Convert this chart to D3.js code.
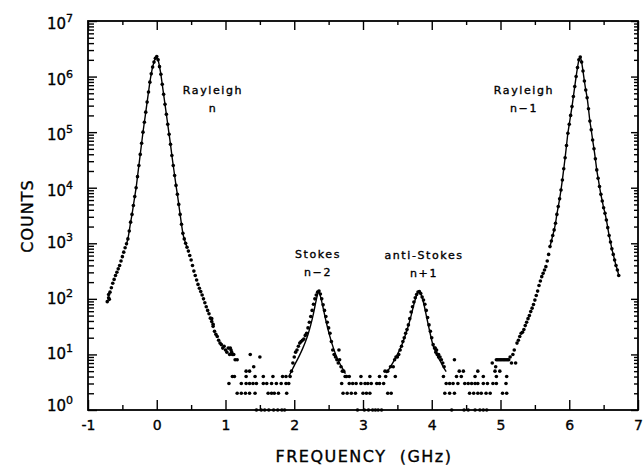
<!DOCTYPE html>
<html><head><meta charset="utf-8">
<script src="https://cdn.jsdelivr.net/npm/d3@7"></script>
<style>body{margin:0;background:#fff} text{stroke:#000;stroke-width:0.35px}</style>
</head><body>
<svg id="c" width="644" height="466"></svg>
<script>
// ---------- data ----------
const xTicks = [-1, 0, 1, 2, 3, 4, 5, 6, 7];
const xMinorTicks = [-0.5, 0.5, 1.5, 2.5, 3.5, 4.5, 5.5, 6.5];
const yExponents = [0, 1, 2, 3, 4, 5, 6, 7];

// Rayleigh n peak: channel counts from -0.72 GHz, 0.02 GHz per channel
const rayleighNStart = -0.72, rayleighNStep = 0.02;
const rayleighNCounts = [
  89,105,132,158,191,224,263,302,347,398,
  479,575,692,832,977,1200,1660,2400,3310,4790,
  6920,10000,15800,25100,39800,63100,100000,151000,229000,347000,
  525000,794000,1120000,1480000,1820000,2140000,2290000,2000000,1510000,1100000,
  724000,479000,316000,209000,138000,91200,60300,38000,25100,16600,
  11000,7590,5010,3310,2190,1510,1200,1000,851,724,
  603,501,398,316,263,219,182,155,135,117,
  100,85,72,62,54,45,39,32,26,23,
  21,18,16,15,13,14,12,11,13,10,
  12,10,10,8];
const rayleighNFitRange = [-0.44, 0.44];

// Stokes n-2 peak: channel counts from 1.94 GHz
const stokesStart = 1.94, stokesStep = 0.02;
const stokesCounts = [4,5,7,9,11,12,14,16,17,18,19,22,24,30,38,48,62,80,100,117,132,138,
  122,100,78,62,48,38,30,24,17,12,10,9,8,7,8,6,5,5,4,4];
const stokesFitFreq = [1.92,1.96,2.00,2.04,2.08,2.12,2.16,2.20,2.24,2.28,2.32,2.355,
  2.39,2.43,2.47,2.51,2.55,2.59,2.63,2.67,2.71,2.745];
const stokesFitCounts = [4.0,5.0,6.3,7.8,9.8,12.6,16.6,22.9,34,55,95,135,
  100,60,36,23,15.5,11,8.3,6.6,5.4,4.5];

// anti-Stokes n+1 peak: channel counts from 3.44 GHz
const antiStart = 3.44, antiStep = 0.02;
const antiCounts = [6,8,9,9,10,12,14,17,20,24,28,34,44,58,72,88,105,120,133,135,
  125,108,95,80,62,46,34,26,20,15,13,11,10,10,9,8,7,6];
const antiFitFreq = [3.34,3.38,3.42,3.46,3.50,3.54,3.58,3.62,3.66,3.70,3.74,3.78,3.815,
  3.85,3.89,3.93,3.97,4.01,4.05,4.09,4.13,4.17,4.21];
const antiFitCounts = [4.6,5.5,6.6,8.1,10,12.6,16.6,23,33,50,79,115,135,
  115,76,44,26,16,11.5,9,7.3,5.9,4.9];

// Rayleigh n-1 peak: channel counts from 4.94 GHz
const rayleighN1Start = 4.94, rayleighN1Step = 0.02;
const rayleighN1Counts = [
  8,8,8,8,8,8,8,8,8,8,
  9,7,10,12,7,16,18,21,24,25,
  28,33,38,44,50,59,68,79,95,115,
  138,174,209,251,288,331,380,479,631,871,
  1100,1380,1740,2290,3310,4570,6310,9120,13800,21900,
  34700,57500,95500,138000,200000,288000,437000,661000,1000000,1450000,
  2000000,2240000,1820000,1260000,832000,575000,417000,263000,158000,110000,
  72400,50100,33100,20900,14800,10500,7590,5750,4370,3470,
  2630,1910,1380,1050,794,631,501,398,331,263];
const rayleighN1FitRange = [5.72, 6.72];

// background noise channels, grouped by count level (GHz)
const noiseAt1 = [1.45,1.52,1.57,1.63,1.70,1.76,1.82,1.86,2.92,3.02,3.08,3.14,3.18,3.22,3.27,
  4.29,4.47,4.53,4.63,4.70,4.75,4.80];
const noiseAt2 = [1.17,1.23,1.29,1.35,1.43,1.62,1.67,1.71,1.77,1.89,2.71,2.77,2.83,2.89,3.00,
  3.05,3.10,3.36,3.41,4.19,4.26,4.33,4.55,4.61,4.67,4.72,4.79,4.85,5.03,5.09];
const noiseAt3 = [1.05,1.23,1.30,1.35,1.40,1.45,1.55,1.60,1.67,1.74,1.81,1.88,1.92,2.69,2.80,
  2.85,2.90,2.97,3.03,3.07,3.12,3.20,3.24,3.30,4.21,4.26,4.31,4.38,4.48,4.53,4.58,4.63,4.67,
  4.75,4.81,4.89,4.94,5.08];
const noiseAt4 = [1.10,1.13,1.30,1.43,1.55,1.69,1.83,1.88,2.80,2.97,3.10,3.24,3.33,4.17,4.36,
  4.43,4.63,4.75,4.94,5.09];
const noiseAt5 = [1.30,1.35,3.32,3.36,4.40,4.46,4.67,4.92,4.99];
const scatterFreq = [1.17,1.41,1.36,1.50,2.65,3.40,3.47,4.33,4.88,4.93,4.05,4.07,4.10,-0.70,-0.69,0.80,0.82,1.07,1.09];
const scatterCounts = [8,6,10,9,12,6,4,8,7,6,13,12,9,120,98,44,35,13,11];

const peakLabelLines = [["Rayleigh", "n"], ["Stokes", "n\u22122"], ["anti-Stokes", "n+1"], ["Rayleigh", "n\u22121"]];

// ---------- drawing ----------
const FONT = "DejaVu Sans";
const svg = d3.select('#c');
const x = d3.scaleLinear().domain([-1, 7]).range([88, 638]);
const y = d3.scaleLog().domain([1, 1e7]).range([410, 21]);

function grid(start, step, counts) {
  return counts.map((c, i) => ({f: +(start + i * step).toFixed(3), c}));
}
const rn = grid(rayleighNStart, rayleighNStep, rayleighNCounts);
const st = grid(stokesStart, stokesStep, stokesCounts);
const an = grid(antiStart, antiStep, antiCounts);
const rn1 = grid(rayleighN1Start, rayleighN1Step, rayleighN1Counts);
const noise = [].concat(
  noiseAt1.map(f => ({f, c: 1})), noiseAt2.map(f => ({f, c: 2})),
  noiseAt3.map(f => ({f, c: 3})), noiseAt4.map(f => ({f, c: 4})),
  noiseAt5.map(f => ({f, c: 5})),
  scatterFreq.map((f, i) => ({f, c: scatterCounts[i]})));
const allDots = [].concat(rn, st, an, rn1, noise);

// axes
function styleAxis(g) {
  g.select('.domain').remove();
  g.selectAll('.tick line').attr('stroke', '#000').attr('stroke-width', 1.4);
}
const yMinor = [];
for (let e = 0; e < 7; e++) for (let k = 2; k <= 9; k++) yMinor.push(k * Math.pow(10, e));
const yMajor = yExponents.map(e => Math.pow(10, e));

svg.append('g').attr('transform', 'translate(0,410)')
  .call(d3.axisBottom(x).tickValues(xTicks).tickSize(-10).tickPadding(10)
    .tickFormat(d => d < 0 ? '-' + Math.abs(d) : String(d)))
  .call(styleAxis)
  .call(g => g.selectAll('text').attr('font-family', FONT).attr('font-size', 14).attr('fill', '#000'));
svg.append('g').attr('transform', 'translate(0,410)')
  .call(d3.axisBottom(x).tickValues(xMinorTicks).tickSize(-5).tickFormat(''))
  .call(styleAxis);
svg.append('g').attr('transform', 'translate(0,21)')
  .call(d3.axisTop(x).tickValues(xTicks).tickSize(-9).tickFormat(''))
  .call(styleAxis);
svg.append('g').attr('transform', 'translate(0,21)')
  .call(d3.axisTop(x).tickValues(xMinorTicks).tickSize(-4).tickFormat(''))
  .call(styleAxis);
svg.append('g').attr('transform', 'translate(88,0)')
  .call(d3.axisLeft(y).tickValues(yMajor).tickSize(-9).tickFormat(''))
  .call(styleAxis);
svg.append('g').attr('transform', 'translate(88,0)')
  .call(d3.axisLeft(y).tickValues(yMinor).tickSize(-6).tickFormat(''))
  .call(styleAxis);
svg.append('g').attr('transform', 'translate(638,0)')
  .call(d3.axisRight(y).tickValues(yMajor).tickSize(-7).tickFormat(''))
  .call(styleAxis);
svg.append('g').attr('transform', 'translate(638,0)')
  .call(d3.axisRight(y).tickValues(yMinor).tickSize(-4).tickFormat(''))
  .call(styleAxis);

// y tick labels 10^n
const yl = svg.append('g');
yExponents.forEach(e => {
  const off = e === 0 ? 1 : (e <= 3 ? 5 : 8);
  const t = yl.append('text').attr('x', 73).attr('y', y(Math.pow(10, e)) + off)
    .attr('text-anchor', 'end').attr('font-family', FONT).attr('fill', '#000');
  t.append('tspan').attr('font-size', 15).text('10');
  t.append('tspan').attr('font-size', 11).attr('dy', -7).text(String(e));
});

// frame
svg.append('rect').attr('x', x(-1)).attr('y', y(1e7))
  .attr('width', x(7) - x(-1)).attr('height', y(1) - y(1e7))
  .attr('fill', 'none').attr('stroke', '#000').attr('stroke-width', 1.8);

// fit lines
const line = d3.line().x(d => x(d.f)).y(d => y(d.c)).curve(d3.curveMonotoneX);
const fits = [
  rn.filter(d => d.f >= rayleighNFitRange[0] && d.f <= rayleighNFitRange[1]),
  stokesFitFreq.map((f, i) => ({f, c: stokesFitCounts[i]})),
  antiFitFreq.map((f, i) => ({f, c: antiFitCounts[i]})),
  rn1.filter(d => d.f >= rayleighN1FitRange[0] && d.f <= rayleighN1FitRange[1])
];
svg.append('g').selectAll('path').data(fits).join('path')
  .attr('d', line).attr('fill', 'none').attr('stroke', '#000').attr('stroke-width', 1.4);

// data dots
svg.append('g').selectAll('circle').data(allDots).join('circle')
  .attr('cx', d => x(d.f)).attr('cy', d => y(d.c)).attr('r', 1.8).attr('fill', '#000');

// peak labels
const lg = svg.append('g').attr('font-family', FONT).attr('font-size', 11)
  .attr('letter-spacing', 1.6).attr('fill', '#000').attr('text-anchor', 'middle');
const labelPos = [[213, 94], [318, 258], [424, 259], [524, 94]];
peakLabelLines.forEach((lines, i) => {
  const cx = labelPos[i][0], by = labelPos[i][1];
  lines.forEach((s, j) => {
    lg.append('text').attr('x', cx).attr('y', by + j * 17.5).text(s);
  });
});

// axis titles
svg.append('text').attr('x', 364).attr('y', 462).attr('text-anchor', 'middle')
  .attr('font-family', FONT).attr('font-size', 16).attr('letter-spacing', 1.5)
  .attr('fill', '#000').style('white-space', 'pre').text('FREQUENCY  (GHz)');
svg.append('text').attr('transform', 'translate(33,216) rotate(-90)')
  .attr('text-anchor', 'middle').attr('font-family', FONT).attr('font-size', 16)
  .attr('letter-spacing', 1).attr('fill', '#000').text('COUNTS');
</script>
</body></html>
